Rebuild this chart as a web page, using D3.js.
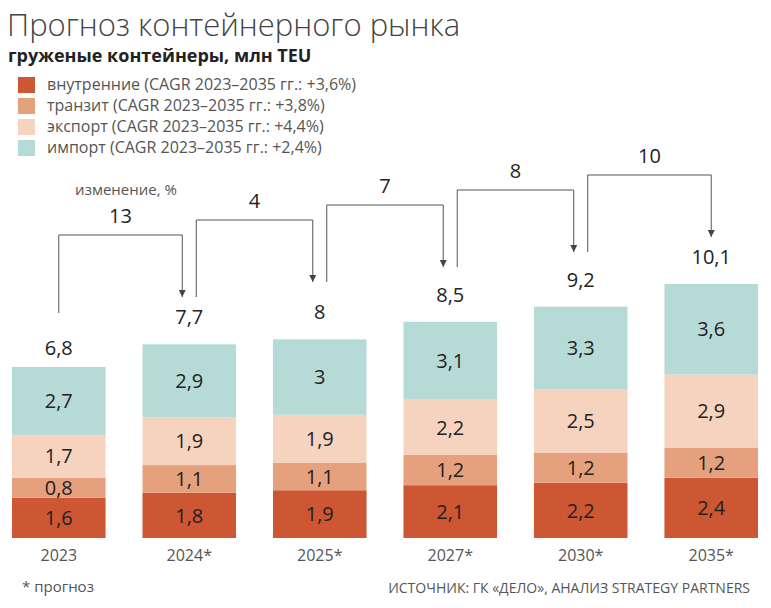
<!DOCTYPE html>
<html>
<head>
<meta charset="utf-8">
<script src="https://cdn.jsdelivr.net/npm/d3@7"></script>
<style>
  body { margin: 0; background: #fff; }
  text { font-family: "Open Sans", "Noto Sans", sans-serif; }
</style>
</head>
<body>
<div id="chart"></div>
<script>
// data
var years = ["2023", "2024*", "2025*", "2027*", "2030*", "2035*"];
var domestic = [1.6, 1.8, 1.9, 2.1, 2.2, 2.4];
var transit = [0.8, 1.1, 1.1, 1.2, 1.2, 1.2];
var exportVals = [1.7, 1.9, 1.9, 2.2, 2.5, 2.9];
var importVals = [2.7, 2.9, 3, 3.1, 3.3, 3.6];
var totals = [6.8, 7.7, 8, 8.5, 9.2, 10.1];
var changes = [13, 4, 7, 8, 10];

var seriesNames = ["внутренние", "транзит", "экспорт", "импорт"];
var cagr = ["+3,6%", "+3,8%", "+4,4%", "+2,4%"];
var colors = ["#cd5633", "#e5a17e", "#f6d3be", "#b6dad6"];

var svgWidth = 771;
var svgHeight = 608;

var svg = d3.select("#chart")
  .append("svg")
  .attr("width", svgWidth)
  .attr("height", svgHeight);

var fmt = function (v) { return String(v).replace(".", ","); };

// title + subtitle
svg.append("text")
  .attr("x", 7)
  .attr("y", 36)
  .attr("font-size", "31px")
  .attr("font-weight", 300)
  .attr("fill", "#444")
  .text("Прогноз контейнерного рынка");

svg.append("text")
  .attr("x", 8)
  .attr("y", 62)
  .attr("font-size", "18px")
  .attr("font-weight", 700)
  .attr("fill", "#222")
  .text("груженые контейнеры, млн TEU");

// legend
var legend = svg.selectAll(".legend")
  .data(seriesNames)
  .enter()
  .append("g")
  .attr("transform", (d, i) => `translate(18, ${77 + i * 21})`);

legend.append("rect")
  .attr("width", 17)
  .attr("height", 16)
  .attr("fill", (d, i) => colors[i]);

legend.append("text")
  .attr("x", 29)
  .attr("y", 13)
  .attr("font-size", "16px")
  .attr("fill", "#555")
  .text((d, i) => `${d} (CAGR 2023–2035 гг.: ${cagr[i]})`);

// scales
var x = d3.scaleBand()
  .domain(years)
  .range([12, 758])
  .paddingInner(0.283)
  .paddingOuter(0);

var y = d3.scaleLinear()
  .domain([0, 10.1])
  .range([538, 284]);

// stacked bars
var table = years.map((yr, i) => ({
  year: yr,
  domestic: domestic[i],
  transit: transit[i],
  exportVals: exportVals[i],
  importVals: importVals[i]
}));
var keys = ["domestic", "transit", "exportVals", "importVals"];
var stacked = d3.stack().keys(keys)(table);

var layers = svg.selectAll(".layer")
  .data(stacked)
  .enter()
  .append("g")
  .attr("fill", (d, i) => colors[i]);

layers.selectAll("rect")
  .data(d => d)
  .enter()
  .append("rect")
  .attr("x", d => x(d.data.year))
  .attr("y", d => y(d[1]))
  .attr("width", x.bandwidth())
  .attr("height", d => y(d[0]) - y(d[1]));

layers.selectAll("text")
  .data(d => d)
  .enter()
  .append("text")
  .attr("x", d => x(d.data.year) + x.bandwidth() / 2)
  .attr("y", d => (y(d[0]) + y(d[1])) / 2)
  .attr("dy", "0.36em")
  .attr("text-anchor", "middle")
  .attr("font-size", "20px")
  .attr("fill", "#222")
  .text(d => fmt(+(d[1] - d[0]).toFixed(1)));

// year labels
svg.append("g")
  .attr("transform", "translate(0, 538)")
  .call(d3.axisBottom(x).tickSize(0).tickPadding(12))
  .call(g => g.select(".domain").remove())
  .selectAll("text")
  .attr("font-size", "16px")
  .attr("fill", "#555")
  .style("font-family", "'Open Sans', sans-serif");

// totals above bars
var stackTop = stacked[stacked.length - 1];
svg.selectAll(".total")
  .data(totals)
  .enter()
  .append("text")
  .attr("x", (d, i) => x(years[i]) + x.bandwidth() / 2)
  .attr("y", (d, i) => y(stackTop[i][1]) - (i === 0 ? 12 : 20))
  .attr("text-anchor", "middle")
  .attr("font-size", "20px")
  .attr("fill", "#222")
  .text(d => fmt(d));

// change connectors (staircase of arrows)
svg.append("defs").append("marker")
  .attr("id", "arrow")
  .attr("viewBox", "0 0 10 10")
  .attr("refX", 10)
  .attr("refY", 5)
  .attr("markerWidth", 7)
  .attr("markerHeight", 7)
  .attr("markerUnits", "userSpaceOnUse")
  .attr("orient", "auto")
  .append("path")
  .attr("d", "M0,0 L10,5 L0,10 z")
  .attr("fill", "#444");

var cx = i => x(years[i]) + x.bandwidth() / 2;
var tipY = i => 297 - 15 * i;

changes.forEach(function (c, i) {
  var x0 = i === 0 ? cx(0) : cx(i) + 7;
  var x1 = i === changes.length - 1 ? cx(i + 1) : cx(i + 1) - 7;
  var yStart = i === 0 ? 313 : tipY(i - 1);
  var yTop = tipY(i) - 62;

  svg.append("path")
    .attr("d", `M${x0},${yStart} V${yTop} H${x1} V${tipY(i)}`)
    .attr("fill", "none")
    .attr("stroke", "#555")
    .attr("stroke-width", 1)
    .attr("marker-end", "url(#arrow)");

  svg.append("text")
    .attr("x", (x0 + x1) / 2)
    .attr("y", yTop - 12)
    .attr("text-anchor", "middle")
    .attr("font-size", "20px")
    .attr("fill", "#222")
    .text(c);
});

svg.append("text")
  .attr("x", 126)
  .attr("y", 195)
  .attr("text-anchor", "middle")
  .attr("font-size", "15px")
  .attr("fill", "#555")
  .text("изменение, %");

// footer
svg.append("text")
  .attr("x", 22)
  .attr("y", 592)
  .attr("font-size", "15px")
  .attr("fill", "#555")
  .text("* прогноз");

svg.append("text")
  .attr("x", 750)
  .attr("y", 593)
  .attr("text-anchor", "end")
  .attr("font-size", "14px")
  .attr("fill", "#555")
  .text("ИСТОЧНИК: ГК «ДЕЛО», АНАЛИЗ STRATEGY PARTNERS");
</script>
</body>
</html>
